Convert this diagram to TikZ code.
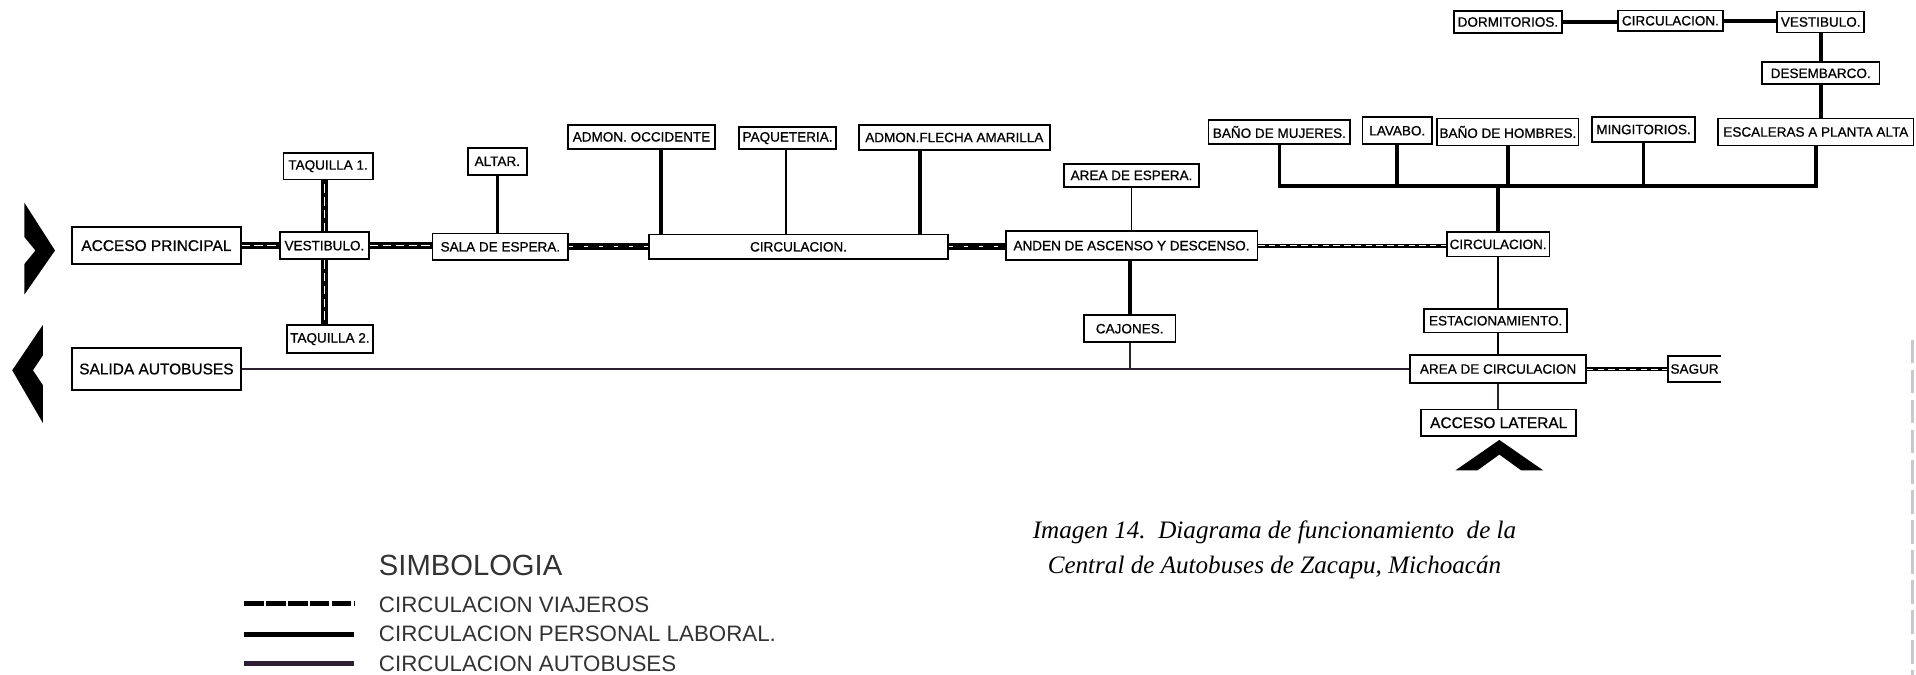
\documentclass[tikz,border=0pt]{standalone}
\usepackage{fontspec}
\setmainfont{Liberation Sans}
\newfontfamily\boxfont[FakeBold=0.8]{Liberation Sans}
\newfontfamily\capfont{Liberation Serif}
\usepackage{tikz}
\definecolor{busline}{RGB}{45,30,50}
\definecolor{scangray}{RGB}{200,200,205}

\begin{document}
\begin{tikzpicture}[x=0.02cm,y=-0.02cm,
    every node/.style={inner sep=1pt},
    box/.style={draw,line width=0.8pt,font=\boxfont\fontsize{6.3}{7}\selectfont},
    big/.style={font=\boxfont\fontsize{7.2}{8}\selectfont},
    bw/.style={minimum width=#1*0.02cm},
    bh/.style={minimum height=#1*0.02cm},
    viajeros/.style={line width=3pt,postaction={draw=white,line width=0.8pt,dash pattern=on 4pt off 2pt}},
    viajosc/.style={line width=3.2pt,postaction={draw=white,line width=0.5pt,dash pattern=on 2pt off 5pt}},
    viajfino/.style={line width=1.8pt,postaction={draw=white,line width=0.5pt,dash pattern=on 3pt off 2pt}},
    personal/.style={line width=1.7pt},
    autobus/.style={line width=1.1pt,draw=busline},
    fino/.style={line width=0.9pt},
    legtext/.style={font=\fontsize{10.4}{12}\selectfont,text=black!80,anchor=west}]
    \useasboundingbox (0,0) rectangle (1568,552);

	\fill (20,166) -- (45,205) -- (20,241) -- (20,216) -- (29,205) -- (20,194) -- cycle;
	\fill (35,266) -- (10,303) -- (35,346) -- (35,315) -- (27,303) -- (35,291) -- cycle;
	\fill (1191,385) -- (1227,360) -- (1263,385) -- (1245,385) -- (1227,372) -- (1209,385) -- cycle;
	\draw[scangray,line width=1.4pt,dash pattern=on 11pt off 3pt] (1565,278) -- (1565,552);

	\node[box,big,bw=138,bh=30] (accp) at (128,201) {ACCESO PRINCIPAL};
	\node[box,bw=73,bh=22] (vest) at (265.5,201) {VESTIBULO.};
	\node[box,bw=73,bh=22] (taqa) at (268.5,136) {TAQUILLA 1.};
	\node[box,bw=70,bh=23] (taqb) at (270,277.5) {TAQUILLA 2.};
	\node[box,bw=48,bh=22] (altar) at (407,132) {ALTAR.};
	\node[box,bw=111,bh=22] (sala) at (409.5,202) {SALA DE ESPERA.};
	\node[box,bw=120,bh=20] (adocc) at (525,112) {ADMON. OCCIDENTE};
	\node[box,bw=79,bh=18] (paq) at (644.5,113) {PAQUETERIA.};
	\node[box,bw=156,bh=21] (adfle) at (781,112.5) {ADMON.FLECHA AMARILLA};
	\node[box,bw=245,bh=20] (circ) at (653.5,202) {CIRCULACION.};
	\node[box,bw=110,bh=19] (aresp) at (926,143.5) {AREA DE ESPERA.};
	\node[box,bw=206,bh=24] (anden) at (926,201) {ANDEN DE ASCENSO Y DESCENSO.};
	\node[box,bw=75,bh=22] (cajon) at (924.5,269) {CAJONES.};
	\node[box,big,bw=138,bh=34] (salida) at (128,302) {SALIDA AUTOBUSES};

	\node[box,bw=88,bh=18] (dorm) at (1234,18) {DORMITORIOS.};
	\node[box,bw=86,bh=17] (circa) at (1367,17) {CIRCULACION.};
	\node[box,bw=71,bh=17] (vesta) at (1490,18) {VESTIBULO.};
	\node[box,bw=96,bh=18] (desem) at (1490,60) {DESEMBARCO.};
	\node[box,bw=160,bh=22] (escal) at (1486,108) {ESCALERAS A PLANTA ALTA};
	\node[box,bw=116,bh=20] (banm) at (1047,108) {BAÑO DE MUJERES.};
	\node[box,bw=57,bh=22] (lav) at (1143.5,107) {LAVABO.};
	\node[box,bw=114,bh=22] (banh) at (1234,108) {BAÑO DE HOMBRES.};
	\node[box,bw=84,bh=20] (ming) at (1345,106) {MINGITORIOS.};
	\node[box,bw=84,bh=20] (circb) at (1226,200) {CIRCULACION.};
	\node[box,bw=117,bh=19] (estac) at (1224,262.5) {ESTACIONAMIENTO.};
	\node[box,bw=144,bh=23] (areac) at (1226,302) {AREA DE CIRCULACION};
	\node[box,big,bw=127,bh=22] (accl) at (1226.5,346) {ACCESO LATERAL};
	\node[font=\boxfont\fontsize{6.3}{7}\selectfont,anchor=west,bh=21] (sagur) at (1365,302) {SAGUR};

	\coordinate (c1) at (541,192);
	\coordinate (c2) at (643,192);
	\coordinate (c3) at (753,192);
	\coordinate (bar) at (1226,152);
	\coordinate (sgend) at (1408,302);

  \draw[viajeros] (accp.east) -- (vest.west);
  \draw[viajeros] (vest.east) -- (vest.east -| sala.west);
  \draw[viajeros] (vest.north) -- (vest.north |- taqa.south);
  \draw[viajeros] (vest.south) -- (vest.south |- taqb.north);
  \draw[personal] (altar.south) -- (altar.south |- sala.north);
  \draw[viajosc] (sala.east) -- (circ.west);
  \draw[viajosc] (circ.east) -- (circ.east -| anden.west);
  \draw[personal] (adocc.south -| c1) -- (c1);
  \draw[fino] (paq.south -| c2) -- (c2);
  \draw[personal] (adfle.south -| c3) -- (c3);
  \draw[fino] (aresp.south) -- (aresp.south |- anden.north);
  \draw[personal] (anden.south -| cajon.north) -- (cajon.north);
  \draw[autobus] (cajon.south) -- (cajon.south |- salida.east);
  \draw[autobus] (salida.east) -- (areac.west);
  \draw[viajfino] (anden.east) -- (anden.east -| circb.west);

  \draw[personal] (dorm.east) -- (dorm.east -| circa.west);
  \draw[personal] (circa.east) -- (circa.east -| vesta.west);
  \draw[personal] (vesta.south) -- (desem.north);
  \draw[personal] (desem.south) -- (desem.south |- escal.north);
  \draw[personal] (banm.south) |- (bar);
  \draw[personal] (lav.south) |- (bar);
  \draw[personal] (banh.south) -- (banh.south |- bar);
  \draw[personal] (ming.south) |- (bar);
  \draw[personal] (escal.south) |- (bar);
  \draw[personal] (bar) -- (circb.north);

  \draw[fino] (circb.south) -- (circb.south |- estac.north);
  \draw[fino] (estac.south -| areac.north) -- (areac.north);
  \draw[fino,draw=busline] (areac.south) -- (areac.south |- accl.north);
  \draw[viajfino] (areac.east) -- (sagur.west);
  \draw[line width=0.8pt] (sgend |- sagur.north) -| (sagur.south west) -- (sgend |- sagur.south);

	\node[font=\fontsize{13.6}{15}\selectfont,text=black!80,anchor=west] (simb) at (308,463) {SIMBOLOGIA};
	\node[legtext] (lviaj) at (308,495) {CIRCULACION VIAJEROS};
	\node[legtext] (lpers) at (308,519) {CIRCULACION PERSONAL LABORAL.};
	\node[legtext] (lbus) at (308,543) {CIRCULACION AUTOBUSES};
	\draw[line width=2.4pt,dash pattern=on 9pt off 1.2pt] (200,494) -- (290,494);
	\draw[line width=2.4pt] (200,519) -- (290,519);
	\draw[line width=2.2pt,draw=busline] (200,543) -- (290,543);

	\node[font=\capfont\itshape\fontsize{11.7}{16.5}\selectfont,align=center] (capt) at (1043,450)
	  {Imagen 14.\ \ Diagrama de funcionamiento\ \ de la\\Central de Autobuses de Zacapu, Michoacán};
\end{tikzpicture}
\end{document}
